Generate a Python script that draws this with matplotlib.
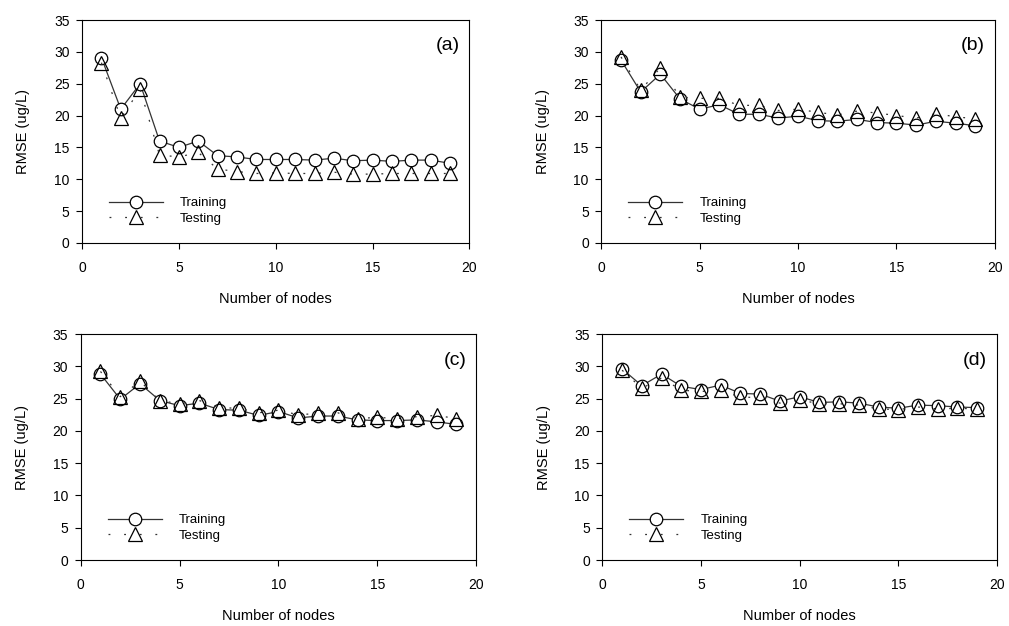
import numpy as np
import matplotlib
matplotlib.use("Agg")
import matplotlib.pyplot as plt

plt.rcParams['font.family'] = ['Liberation Sans', 'DejaVu Sans']

# Number of hidden nodes (x axis)
nodes = list(range(1, 20))

# RMSE values
train_a = [29.1, 21.0, 25.0, 16.0, 15.0, 16.0, 13.7, 13.5, 13.1, 13.1,
           13.1, 13.0, 13.3, 12.9, 13.0, 12.8, 13.0, 13.0, 12.5]
test_a = [28.3, 19.6, 24.1, 13.8, 13.5, 14.2, 11.6, 11.2, 10.9, 11.0,
          10.9, 10.9, 11.1, 10.8, 10.8, 10.9, 10.9, 10.9, 10.9]

train_b = [28.7, 23.7, 26.5, 22.6, 21.0, 21.7, 20.2, 20.2, 19.6, 19.9,
           19.2, 19.1, 19.4, 18.9, 18.8, 18.5, 19.1, 18.8, 18.4]
test_b = [29.2, 24.0, 27.5, 22.9, 22.7, 22.7, 21.6, 21.6, 20.8, 21.0,
          20.5, 20.1, 20.7, 20.4, 20.0, 19.6, 20.3, 19.8, 19.5]

train_c = [28.8, 24.9, 27.3, 24.7, 23.9, 24.3, 23.3, 23.2, 22.4, 23.0,
           22.0, 22.3, 22.3, 21.7, 21.6, 21.6, 21.7, 21.4, 21.0]
test_c = [29.2, 25.3, 27.7, 24.7, 24.2, 24.7, 23.6, 23.5, 22.8, 23.2,
          22.5, 22.7, 22.8, 21.9, 22.1, 21.9, 22.2, 22.4, 21.9]

train_d = [29.6, 27.0, 28.8, 26.9, 26.4, 27.1, 25.8, 25.7, 24.6, 25.3,
           24.4, 24.5, 24.3, 23.7, 23.5, 24.0, 23.9, 23.7, 23.6]
test_d = [29.4, 26.6, 28.2, 26.3, 26.1, 26.3, 25.2, 25.2, 24.3, 24.8,
          24.2, 24.2, 24.0, 23.4, 23.3, 23.7, 23.4, 23.5, 23.4]

panel_labels = ["(a)", "(b)", "(c)", "(d)"]
train_sets = [train_a, train_b, train_c, train_d]
test_sets = [test_a, test_b, test_c, test_d]

# axes rectangles in figure fractions [left, bottom, width, height]
rects = [
    [0.0813, 0.612, 0.384, 0.356],
    [0.596, 0.612, 0.390, 0.356],
    [0.080, 0.1054, 0.392, 0.361],
    [0.597, 0.1054, 0.391, 0.361],
]

fig = plt.figure(figsize=(10.09, 6.26), dpi=100)

for rect, lab, tr, te in zip(rects, panel_labels, train_sets, test_sets):
    ax = fig.add_axes(rect)

    ax.plot(nodes, tr, color='#333333', linewidth=0.9, marker='o',
            markersize=9, markerfacecolor='white', markeredgecolor='black',
            markeredgewidth=0.9, label='Training', zorder=3)
    ax.plot(nodes, te, color='#333333', linewidth=0.9, linestyle=(0, (1.5, 11)),
            marker='^', markersize=9.5, markerfacecolor='none',
            markeredgecolor='black', markeredgewidth=0.9, label='Testing',
            zorder=4)

    ax.set_xlim(0, 20)
    ax.set_ylim(0, 35)
    ax.set_xticks([0, 5, 10, 15, 20])
    ax.set_yticks([0, 5, 10, 15, 20, 25, 30, 35])
    ax.tick_params(axis='both', direction='out', length=4, width=0.8,
                   labelsize=10, top=False, right=False)
    ax.tick_params(axis='x', pad=9)
    ax.tick_params(axis='y', pad=5)
    for sp in ax.spines.values():
        sp.set_linewidth(0.8)

    ax.set_xlabel("Number of nodes", fontsize=10.5, labelpad=12)
    ax.set_ylabel("RMSE (ug/L)", fontsize=10.5, labelpad=17)

    ax.text(0.975, 0.885, lab, transform=ax.transAxes, fontsize=14,
            ha='right', va='center')

    ax.legend(loc='lower left', bbox_to_anchor=(0.045, 0.04), frameon=False,
              fontsize=9.5, handlelength=4.1, handletextpad=1.3,
              labelspacing=0.25, borderpad=0.2)

fig.savefig("out.png", dpi=100)
